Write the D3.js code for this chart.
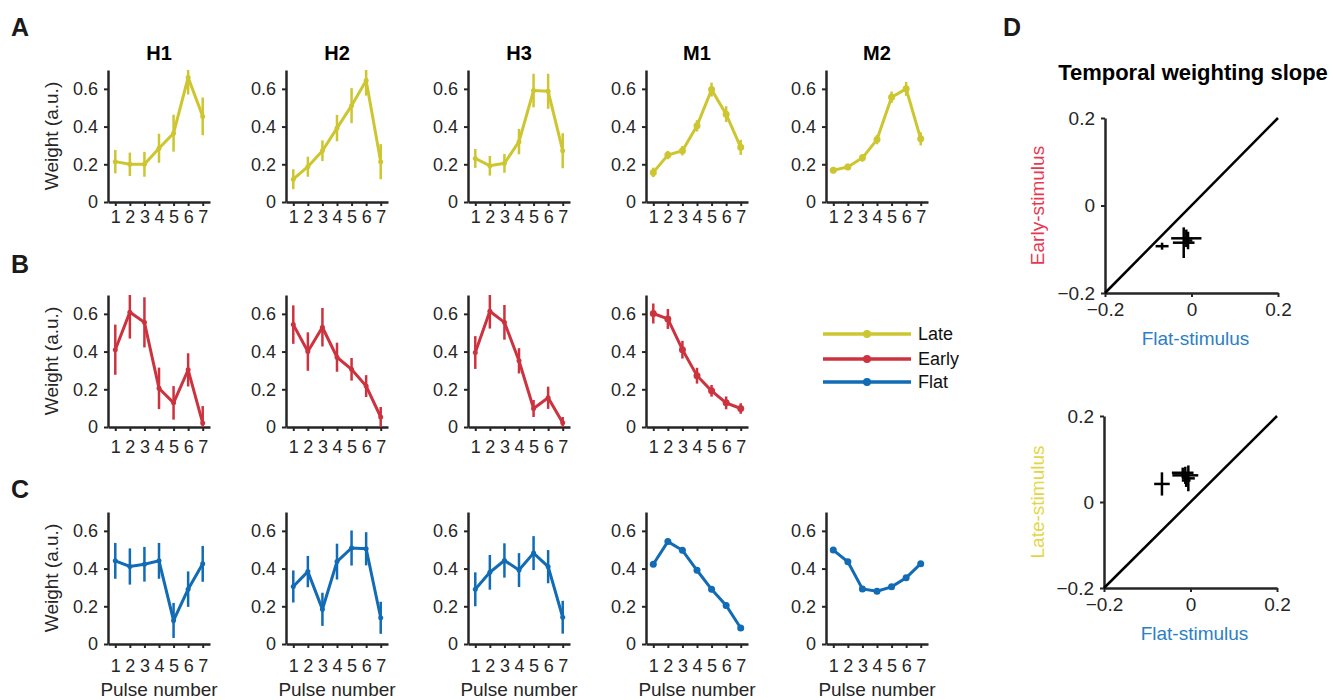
<!DOCTYPE html>
<html>
<head>
<meta charset="utf-8">
<script src="https://cdn.jsdelivr.net/npm/d3@7"></script>
<style>
  body { margin: 0; background: #fff; }
  svg { font-family: "Liberation Sans", Arial, sans-serif; }
</style>
</head>
<body>
<svg id="fig" width="1333" height="700"></svg>
<script>
// ---- data ----
var subjects = ["H1", "H2", "H3", "M1", "M2"];
var pulses = [1, 2, 3, 4, 5, 6, 7];
var yTicks = [0, 0.2, 0.4, 0.6];

var lateMean = [
  [0.214, 0.200, 0.200, 0.285, 0.365, 0.660, 0.454],
  [0.121, 0.187, 0.272, 0.392, 0.511, 0.644, 0.214],
  [0.231, 0.192, 0.205, 0.320, 0.591, 0.587, 0.272],
  [0.157, 0.249, 0.272, 0.404, 0.596, 0.466, 0.290],
  [0.168, 0.186, 0.234, 0.331, 0.556, 0.600, 0.335]
];
var lateErr = [
  [0.062, 0.062, 0.066, 0.077, 0.098, 0.090, 0.100],
  [0.053, 0.053, 0.055, 0.070, 0.093, 0.080, 0.093],
  [0.050, 0.052, 0.050, 0.067, 0.089, 0.093, 0.093],
  [0.025, 0.022, 0.025, 0.030, 0.037, 0.042, 0.040],
  [0.015, 0.017, 0.020, 0.025, 0.030, 0.037, 0.035]
];
var earlyMean = [
  [0.410, 0.609, 0.555, 0.205, 0.128, 0.303, 0.021],
  [0.543, 0.400, 0.529, 0.370, 0.306, 0.217, 0.053],
  [0.395, 0.614, 0.555, 0.351, 0.098, 0.155, 0.023],
  [0.602, 0.573, 0.410, 0.272, 0.192, 0.128, 0.098]
];
var earlyErr = [
  [0.133, 0.140, 0.133, 0.110, 0.089, 0.088, 0.090],
  [0.102, 0.102, 0.102, 0.077, 0.060, 0.058, 0.053],
  [0.087, 0.092, 0.092, 0.067, 0.045, 0.059, 0.030],
  [0.053, 0.053, 0.047, 0.042, 0.031, 0.034, 0.028]
];
var flatMean = [
  [0.441, 0.411, 0.423, 0.441, 0.125, 0.291, 0.425],
  [0.305, 0.384, 0.184, 0.437, 0.509, 0.505, 0.139],
  [0.290, 0.380, 0.443, 0.392, 0.482, 0.410, 0.142],
  [0.423, 0.543, 0.497, 0.391, 0.290, 0.204, 0.085],
  [0.498, 0.436, 0.292, 0.280, 0.303, 0.351, 0.426]
];
var flatErr = [
  [0.095, 0.096, 0.092, 0.095, 0.093, 0.094, 0.095],
  [0.085, 0.083, 0.088, 0.095, 0.093, 0.088, 0.085],
  [0.090, 0.092, 0.091, 0.090, 0.090, 0.088, 0.087],
  [0.015, 0.015, 0.015, 0.015, 0.015, 0.015, 0.015],
  [0.012, 0.012, 0.012, 0.012, 0.012, 0.012, 0.012]
];

// slopes: flat (x) vs early / late (y), with errors
var earlyFlatX = [-0.068, -0.012, -0.018, -0.008];
var earlyFlatXErr = [0.015, 0.035, 0.025, 0.010];
var earlySlope = [-0.093, -0.075, -0.085, -0.080];
var earlySlopeErr = [0.008, 0.020, 0.035, 0.020];

var lateFlatX = [-0.066, -0.012, -0.018, -0.005, -0.010];
var lateFlatXErr = [0.018, 0.030, 0.025, 0.015, 0.010];
var lateSlope = [0.042, 0.062, 0.068, 0.055, 0.050];
var lateSlopeErr = [0.027, 0.020, 0.012, 0.030, 0.015];

var slopeTicks = [-0.2, 0, 0.2];

// ---- styles ----
var colors = { late: "#cdc631", early: "#cc333f", flat: "#116bb5" };
var axisColor = "#262626";
var colX = [108, 286, 468, 646, 826];
var panelW = 102;
var rowsLayout = [
  { top: 70, zero: 202, tickDy: 15 },
  { top: 295, zero: 427, tickDy: 20 },
  { top: 512, zero: 644, tickDy: 22 }
];

var svg = d3.select("#fig");
var fmt = function (d) { return d === 0 ? "0" : d3.format(".1f")(d); };

function styleAxis(g, size) {
  g.select(".domain").attr("stroke", axisColor).attr("stroke-width", 2.5);
  g.selectAll(".tick line").attr("stroke", axisColor).attr("stroke-width", 2);
  g.selectAll(".tick text").attr("fill", axisColor).attr("font-size", size)
    .attr("font-family", "Liberation Sans, Arial, sans-serif");
}

function drawPanel(col, row, means, errs, color) {
  var L = rowsLayout[row];
  var left = colX[col];
  var x = d3.scaleLinear().domain([0.5, 7.5]).range([left, left + panelW]);
  var y = d3.scaleLinear().domain([0, 0.7]).range([L.zero, L.top]);
  var id = "clip" + row + "_" + col;
  svg.append("clipPath").attr("id", id).append("rect")
    .attr("x", left - 10).attr("y", L.top).attr("width", panelW + 20).attr("height", L.zero - L.top);

  var g = svg.append("g");
  var xa = g.append("g").attr("transform", "translate(0," + L.zero + ")")
    .call(d3.axisBottom(x).tickValues(pulses).tickFormat(d3.format("d"))
      .tickSize(4).tickSizeOuter(0).tickPadding(L.tickDy - 11));
  styleAxis(xa, 18);
  var ya = g.append("g").attr("transform", "translate(" + left + ",0)")
    .call(d3.axisLeft(y).tickValues(yTicks).tickFormat(fmt).tickSize(4).tickSizeOuter(0).tickPadding(6));
  styleAxis(ya, 18);

  var pts = means.map(function (v, i) { return { p: pulses[i], v: v, e: errs[i] }; });
  var plot = g.append("g").attr("clip-path", "url(#" + id + ")");
  plot.selectAll(".err").data(pts).enter().append("line")
    .attr("x1", function (d) { return x(d.p); }).attr("x2", function (d) { return x(d.p); })
    .attr("y1", function (d) { return y(d.v - d.e); }).attr("y2", function (d) { return y(d.v + d.e); })
    .attr("stroke", color).attr("stroke-width", 2.5);
  plot.append("path").datum(pts)
    .attr("fill", "none").attr("stroke", color).attr("stroke-width", 3)
    .attr("d", d3.line().x(function (d) { return x(d.p); }).y(function (d) { return y(d.v); }));
  plot.selectAll(".dot").data(pts).enter().append("circle")
    .attr("cx", function (d) { return x(d.p); }).attr("cy", function (d) { return y(d.v); })
    .attr("r", col >= 3 ? 3.5 : 2.5).attr("fill", color);

  if (row === 0) {
    svg.append("text").attr("x", left + panelW / 2).attr("y", 60)
      .attr("text-anchor", "middle").attr("font-weight", "bold").attr("font-size", 20)
      .text(subjects[col]);
  }
  if (col === 0) {
    svg.append("text")
      .attr("transform", "translate(58," + ((L.top + L.zero) / 2) + ") rotate(-90)")
      .attr("text-anchor", "middle").attr("font-size", 19).attr("fill", axisColor)
      .text("Weight (a.u.)");
  }
  if (row === 2) {
    svg.append("text").attr("x", left + panelW / 2).attr("y", 696)
      .attr("text-anchor", "middle").attr("font-size", 19).attr("fill", axisColor)
      .text("Pulse number");
  }
}

lateMean.forEach(function (m, i) { drawPanel(i, 0, m, lateErr[i], colors.late); });
earlyMean.forEach(function (m, i) { drawPanel(i, 1, m, earlyErr[i], colors.early); });
flatMean.forEach(function (m, i) { drawPanel(i, 2, m, flatErr[i], colors.flat); });

// panel letters
[["A", 11, 36], ["B", 11, 273], ["C", 11, 498], ["D", 1003, 36]].forEach(function (d) {
  svg.append("text").attr("x", d[1]).attr("y", d[2]).attr("font-weight", "bold")
    .attr("font-size", 25).attr("fill", "#1a1a1a").text(d[0]);
});

// legend
var legendItems = [["Late", colors.late, 334], ["Early", colors.early, 359], ["Flat", colors.flat, 382]];
var lg = svg.append("g");
legendItems.forEach(function (d) {
  lg.append("line").attr("x1", 823).attr("x2", 911).attr("y1", d[2]).attr("y2", d[2])
    .attr("stroke", d[1]).attr("stroke-width", 3.5);
  lg.append("circle").attr("cx", 867).attr("cy", d[2]).attr("r", 4).attr("fill", d[1]);
  lg.append("text").attr("x", 918).attr("y", d[2]).attr("dy", "0.35em")
    .attr("font-size", 18).attr("fill", "#111").text(d[0]);
});

// D: slope scatter panels
svg.append("text").attr("x", 1193).attr("y", 80).attr("text-anchor", "middle")
  .attr("font-weight", "bold").attr("font-size", 22).text("Temporal weighting slope");

function drawScatter(box, xs, xe, ys, ye, yLabel, yColor) {
  var x = d3.scaleLinear().domain([-0.2, 0.2]).range([box.left, box.right]);
  var y = d3.scaleLinear().domain([-0.2, 0.2]).range([box.bottom, box.top]);
  var g = svg.append("g");
  var xa = g.append("g").attr("transform", "translate(0," + box.bottom + ")")
    .call(d3.axisBottom(x).tickValues(slopeTicks).tickFormat(fmt).tickSize(4).tickSizeOuter(0).tickPadding(6));
  styleAxis(xa, 19);
  var ya = g.append("g").attr("transform", "translate(" + box.left + ",0)")
    .call(d3.axisLeft(y).tickValues(slopeTicks).tickFormat(fmt).tickSize(4).tickSizeOuter(0).tickPadding(6));
  styleAxis(ya, 19);
  g.append("line").attr("x1", x(-0.2)).attr("y1", y(-0.2)).attr("x2", x(0.2)).attr("y2", y(0.2))
    .attr("stroke", "#000").attr("stroke-width", 2.5);
  var pts = xs.map(function (v, i) { return { x: v, xe: xe[i], y: ys[i], ye: ye[i] }; });
  g.selectAll(".h").data(pts).enter().append("line")
    .attr("x1", function (d) { return x(d.x - d.xe); }).attr("x2", function (d) { return x(d.x + d.xe); })
    .attr("y1", function (d) { return y(d.y); }).attr("y2", function (d) { return y(d.y); })
    .attr("stroke", "#000").attr("stroke-width", 2.5);
  g.selectAll(".v").data(pts).enter().append("line")
    .attr("x1", function (d) { return x(d.x); }).attr("x2", function (d) { return x(d.x); })
    .attr("y1", function (d) { return y(d.y - d.ye); }).attr("y2", function (d) { return y(d.y + d.ye); })
    .attr("stroke", "#000").attr("stroke-width", 2.5);
  svg.append("text").attr("x", (box.left + box.right) / 2 + 4).attr("y", box.bottom + 52)
    .attr("text-anchor", "middle").attr("font-size", 19).attr("fill", "#2b7fc4").text("Flat-stimulus");
  svg.append("text")
    .attr("transform", "translate(1044," + (box.top + box.bottom) / 2 + ") rotate(-90)")
    .attr("text-anchor", "middle").attr("font-size", 19).attr("fill", yColor).text(yLabel);
}

drawScatter({ left: 1105, right: 1278, top: 118, bottom: 293 },
  earlyFlatX, earlyFlatXErr, earlySlope, earlySlopeErr, "Early-stimulus", "#e8384f");
drawScatter({ left: 1104, right: 1277, top: 416, bottom: 588 },
  lateFlatX, lateFlatXErr, lateSlope, lateSlopeErr, "Late-stimulus", "#e4d643");
</script>
</body>
</html>
